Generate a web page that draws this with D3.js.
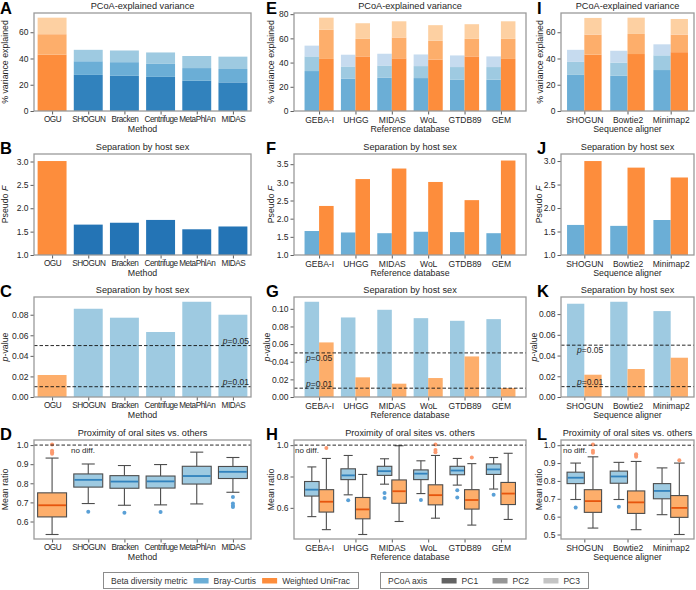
<!DOCTYPE html>
<html><head><meta charset="utf-8">
<script src="https://cdn.jsdelivr.net/npm/d3@7"></script>
<style>
body{margin:0;background:#fff;}
svg text{font-family:"Liberation Sans",Arial,Helvetica,sans-serif;fill:#262626;}
</style></head><body>
<svg id="fig" width="696" height="590"></svg>
<script>
// ---------------- data ----------------
const methods = ["OGU","SHOGUN","Bracken","Centrifuge","MetaPhlAn","MIDAS"];
const databases = ["GEBA-I","UHGG","MIDAS","WoL","GTDB89","GEM"];
const aligners = ["SHOGUN","Bowtie2","Minimap2"];

// PCoA explained variance (% per axis)
const methodPC1 = [42.9,27.5,26.8,26.0,23.0,21.8];
const methodPC2 = [15.6,10.4,10.4,9.9,9.7,10.2];
const methodPC3 = [12.6,8.7,8.9,8.7,9.2,9.4];
const dbBrayPC1 = [33.0,26.8,27.4,27.2,26.0,25.8];
const dbBrayPC2 = [12.1,10.0,10.2,9.9,10.3,10.5];
const dbBrayPC3 = [8.9,9.7,9.7,9.6,9.6,8.8];
const dbUnifracPC1 = [43.0,45.1,43.5,42.5,45.1,43.0];
const dbUnifracPC2 = [24.1,14.5,17.2,15.5,14.5,16.6];
const dbUnifracPC3 = [10.0,12.9,13.4,12.9,12.1,14.5];
const alnBrayPC1 = [27.5,26.8,31.2];
const alnBrayPC2 = [9.9,10.1,11.2];
const alnBrayPC3 = [9.2,9.0,8.4];
const alnUnifracPC1 = [42.9,43.4,44.8];
const alnUnifracPC2 = [15.3,15.3,13.4];
const alnUnifracPC3 = [12.7,12.4,11.9];

// Pseudo F
const methodPseudoF = [3.01,1.65,1.69,1.75,1.55,1.61];
const dbPseudoFBray = [1.66,1.62,1.60,1.64,1.63,1.60];
const dbPseudoFUnifrac = [2.35,3.09,3.38,3.01,2.51,3.60];
const alnPseudoFBray = [1.64,1.62,1.745];
const alnPseudoFUnifrac = [3.00,2.86,2.65];

// p-values
const methodPval = [0.0214,0.0858,0.0771,0.0632,0.0926,0.0800];
const dbPvalBray = [0.108,0.0902,0.0989,0.0894,0.0864,0.0883];
const dbPvalUnifrac = [0.0619,0.0223,0.0151,0.0215,0.046,0.0102];
const alnPvalBray = [0.0900,0.0919,0.0829];
const alnPvalUnifrac = [0.0215,0.0270,0.0379];
const pThresholds = [0.05, 0.01];

// Mean ratio boxplots: [whisker low, Q1, median, Q3, whisker high]
const methodBox = [[0.532,0.624,0.685,0.750,0.932],[0.694,0.780,0.818,0.849,0.901],[0.685,0.774,0.809,0.840,0.893],
                   [0.687,0.775,0.810,0.838,0.898],[0.692,0.796,0.838,0.889,0.963],[0.753,0.825,0.860,0.888,0.935]];
const methodOut = [[0.955,0.962,0.970,1.003],[0.651],[0.646],[0.650],[],[0.728,0.694,0.682,0.676]];
const dbBoxBray = [[0.544,0.675,0.716,0.768,0.861],[0.683,0.780,0.807,0.849,0.934],[0.751,0.807,0.834,0.865,0.913],
                   [0.691,0.780,0.818,0.842,0.900],[0.745,0.811,0.838,0.865,0.915],[0.720,0.813,0.845,0.880,0.921]];
const dbOutBray = [[],[0.648],[0.695,0.662],[0.650],[0.712,0.666],[0.683]];
const dbBoxUnifrac = [[0.461,0.573,0.639,0.716,0.915],[0.430,0.530,0.590,0.666,0.813],[0.513,0.629,0.706,0.778,0.996],
                      [0.534,0.619,0.681,0.747,0.934],[0.490,0.592,0.650,0.716,0.882],[0.526,0.621,0.691,0.762,0.948]];
const dbOutUnifrac = [[0.981],[],[],[0.954,0.969,1.004],[0.921],[]];
const alnBoxBray = [[0.696,0.785,0.818,0.849,0.900],[0.696,0.787,0.825,0.855,0.904],[0.611,0.700,0.744,0.785,0.873]];
const alnOutBray = [[0.651],[0.656],[]];
const alnBoxUnifrac = [[0.536,0.624,0.687,0.751,0.935],[0.527,0.618,0.680,0.744,0.909],[0.500,0.596,0.649,0.718,0.900]];
const alnOutUnifrac = [[0.958,0.969,1.004],[0.935,0.945,0.949],[0.916]];

// tick values
const ticksVarA = [0,20,40,60];
const ticksVarE = [0,20,40,60,80];
const ticksVarI = [0,20,40,60];
const ticksFB = [1.0,1.5,2.0,2.5,3.0];
const ticksFF = [1.0,1.5,2.0,2.5,3.0,3.5];
const ticksFJ = [1.0,1.5,2.0,2.5,3.0];
const ticksPC = [0,0.02,0.04,0.06,0.08];
const ticksPG = [0,0.02,0.04,0.06,0.08,0.10];
const ticksPK = [0,0.02,0.04,0.06,0.08];
const ticksRD = [0.6,0.7,0.8,0.9,1.0];
const ticksRH = [0.6,0.8,1.0];
const ticksRL = [0.5,0.6,0.7,0.8,0.9,1.0];

// ---------------- style ----------------
const FONT = '"Liberation Sans", Arial, Helvetica, sans-serif';
const blueDark = ["#3182bd","#6baed6","#9ecae1"];
const blueLight = ["#6baed6","#9ecae1","#c6dbef"];
const orangeS = ["#fd8d3c","#fdae6b","#fdd0a2"];
const svg = d3.select('#fig');
svg.append('rect').attr('width',696).attr('height',590).attr('fill','#fff');

const cols = [{l:34,r:251,lx:0,yl:5},{l:294,r:526,lx:266,yl:271},{l:561,r:694,lx:537,yl:540}];
const rows = [{t:13,b:111},{t:154,b:255},{t:297,b:397},{t:440,b:539}];

function fitTickLabels(xa, step) {
  const texts = xa.selectAll('.tick text');
  let fs = 8.5, ls = 0;
  const fits = () => {
    const w = [];
    texts.each(function(){ w.push(this.getComputedTextLength()); });
    for (let i = 0; i + 1 < w.length; i++) if ((w[i] + w[i + 1]) / 2 + 1.5 > step) return false;
    return true;
  };
  const apply = () => texts.attr('font-size', fs).attr('letter-spacing', ls);
  while (!fits() && ls > -0.4) { ls -= 0.05; apply(); }
  while (!fits() && fs > 7) { fs -= 0.1; apply(); }
}

function makePanel(ci, ri, o) {
  const c = cols[ci], r = rows[ri], n = o.cats.length;
  let dom;
  if (o.mode === 'sns') dom = [-0.5, n - 0.5];
  else { const m = 0.05 * (n - 1 + 0.8); dom = [-0.4 - m, n - 1 + 0.4 + m]; }
  const x = d3.scaleLinear().domain(dom).range([c.l, c.r]);
  const y = d3.scaleLinear().domain(o.yDomain).range([r.b, r.t]);
  const g = svg.append('g');
  const marks = g.append('g');
  const over = g.append('g');
  const xa = g.append('g').attr('transform', `translate(0,${r.b})`)
    .call(d3.axisBottom(x).tickValues(d3.range(n)).tickFormat(i => o.cats[i]).tickSize(3.5).tickPadding(2));
  const ya = g.append('g').attr('transform', `translate(${c.l},0)`)
    .call(d3.axisLeft(y).tickValues(o.yTicks).tickFormat(o.yFmt).tickSize(3.5).tickPadding(2));
  [xa, ya].forEach(a => {
    a.attr('font-family', FONT).attr('font-size', 8.5);
    a.select('.domain').remove();
    a.selectAll('.tick line').attr('stroke', '#333').attr('stroke-width', 0.8);
    a.selectAll('.tick text').attr('fill', '#262626');
  });
  fitTickLabels(xa, x(1) - x(0));
  let maxW = 0;
  ya.selectAll('.tick text').each(function(){ maxW = Math.max(maxW, this.getComputedTextLength()); });
  const tickLeft = c.l - 5.5 - maxW;
  const center = Math.min(c.yl, tickLeft - 4.5);
  const yl = g.append('text').attr('font-size', 8.8).attr('text-anchor', 'middle')
    .attr('transform', `translate(${center + 2.8},${(r.t + r.b) / 2}) rotate(-90)`);
  o.ylabel.forEach(p => yl.append('tspan').attr('font-style', p.i ? 'italic' : 'normal').text(p.t));
  g.append('text').attr('x', (c.l + c.r) / 2).attr('y', r.b + 21).attr('font-size', 8.8)
    .attr('text-anchor', 'middle').text(o.xlabel);
  g.append('text').attr('x', (c.l + c.r) / 2).attr('y', r.t - 4).attr('font-size', 9.2)
    .attr('text-anchor', 'middle').text(o.title);
  g.append('text').attr('x', c.lx).attr('y', Math.max(r.t - 0.5, 13.5)).attr('font-size', 16.5).attr('font-weight', 'bold')
    .style('fill', '#000').text(o.letter);
  g.append('rect').attr('x', c.l).attr('y', r.t).attr('width', c.r - c.l).attr('height', r.b - r.t)
    .attr('fill', 'none').attr('stroke', '#9a9a9a').attr('stroke-width', 1.3);
  return {x, y, marks, over, c, r};
}

function stacked(p, i, x0, x1, vals, colors) {
  let cum = 0;
  vals.forEach((v, k) => {
    p.marks.append('rect').attr('x', p.x(x0)).attr('width', p.x(x1) - p.x(x0))
      .attr('y', p.y(cum + v)).attr('height', p.y(cum) - p.y(cum + v)).attr('fill', colors[k]);
    cum += v;
  });
}
function bar(p, x0, x1, v, base, color) {
  p.marks.append('rect').attr('x', p.x(x0)).attr('width', p.x(x1) - p.x(x0))
    .attr('y', p.y(v)).attr('height', p.y(base) - p.y(v)).attr('fill', color);
}
function hline(p, v) {
  p.over.append('line').attr('x1', p.c.l).attr('x2', p.c.r).attr('y1', p.y(v)).attr('y2', p.y(v))
    .attr('stroke', '#111').attr('stroke-width', 0.9).attr('stroke-dasharray', '3.5,2');
}
function plabel(p, v, xPos, anchor, dy) {
  const t = p.over.append('text').attr('x', xPos).attr('y', p.y(v) + dy).attr('font-size', 8.5).attr('text-anchor', anchor);
  t.append('tspan').attr('font-style', 'italic').text('p');
  t.append('tspan').text('=' + v.toFixed(2));
}
function box(p, cx, w, s, outs, fill, med, capFrac, outColor) {
  const [lo, q1, md, q3, hi] = s;
  const m = p.marks, X = p.x, Y = p.y;
  const xl = X(cx - w / 2), xr = X(cx + w / 2), xc = X(cx), cw = (xr - xl) * capFrac / 2;
  const st = '#4d4d4d';
  m.append('line').attr('x1', xc).attr('x2', xc).attr('y1', Y(lo)).attr('y2', Y(q1)).attr('stroke', st).attr('stroke-width', 1.1);
  m.append('line').attr('x1', xc).attr('x2', xc).attr('y1', Y(q3)).attr('y2', Y(hi)).attr('stroke', st).attr('stroke-width', 1.1);
  [lo, hi].forEach(v => m.append('line').attr('x1', xc - cw).attr('x2', xc + cw).attr('y1', Y(v)).attr('y2', Y(v))
    .attr('stroke', st).attr('stroke-width', 1.1));
  m.append('rect').attr('x', xl).attr('width', xr - xl).attr('y', Y(q3)).attr('height', Y(q1) - Y(q3))
    .attr('fill', fill).attr('stroke', st).attr('stroke-width', 1.1);
  m.append('line').attr('x1', xl + 0.6).attr('x2', xr - 0.6).attr('y1', Y(md)).attr('y2', Y(md)).attr('stroke', med).attr('stroke-width', 1.8);
  outs.forEach(v => m.append('circle').attr('cx', xc).attr('cy', Y(v)).attr('r', 2).attr('fill', outColor));
}
function ratioDomain(boxes, outs) {
  const all = boxes.flat().concat(outs.flat().flat());
  const lo = d3.min(all), hi = d3.max(all), m = (hi - lo) * 0.05;
  return [lo - m, hi + m];
}
const fmtInt = d3.format('d'), fmt1 = d3.format('.1f'), fmt2 = d3.format('.2f');
const yVar = [{t:'% variance explained'}];
const yF = [{t:'Pseudo '},{t:'F',i:true}];
const yP = [{t:'p',i:true},{t:'-value'}];
const yR = [{t:'Mean ratio'}];
const tVar = 'PCoA-explained variance', tSex = 'Separation by host sex', tOral = 'Proximity of oral sites vs. others';
const BLUE_B = '#2474b5', BF = '#6baed6', OF = '#fd8d3c', BP = '#9ecae1', OP = '#fdae6b';
const OUT_B = '#5aa0d6', OUT_O = '#fc9a70';

// ---------- column 1 ----------
{
  const cum = methods.map((_, i) => methodPC1[i] + methodPC2[i] + methodPC3[i]);
  const pA = makePanel(0, 0, {cats: methods, mode: 'sns', yDomain: [0, d3.max(cum) * 1.05], yTicks: ticksVarA, yFmt: fmtInt,
    ylabel: yVar, xlabel: 'Method', title: tVar, letter: 'A'});
  methods.forEach((m, i) => stacked(pA, i, i - 0.4, i + 0.4, [methodPC1[i], methodPC2[i], methodPC3[i]], i === 0 ? orangeS : blueDark));

  const pB = makePanel(0, 1, {cats: methods, mode: 'sns', yDomain: [1.0, d3.max(methodPseudoF) * 1.05], yTicks: ticksFB, yFmt: fmt1,
    ylabel: yF, xlabel: 'Method', title: tSex, letter: 'B'});
  methods.forEach((m, i) => bar(pB, i - 0.4, i + 0.4, methodPseudoF[i], 1.0, i === 0 ? OF : BLUE_B));

  const pC = makePanel(0, 2, {cats: methods, mode: 'sns', yDomain: [0, d3.max(methodPval) * 1.05], yTicks: ticksPC, yFmt: fmt2,
    ylabel: yP, xlabel: 'Method', title: tSex, letter: 'C'});
  methods.forEach((m, i) => bar(pC, i - 0.4, i + 0.4, methodPval[i], 0, i === 0 ? OP : BP));
  pThresholds.forEach(v => { hline(pC, v); plabel(pC, v, pC.c.r - 2, 'end', -1.5); });

  const pD = makePanel(0, 3, {cats: methods, mode: 'sns', yDomain: ratioDomain(methodBox, methodOut), yTicks: ticksRD, yFmt: fmt1,
    ylabel: yR, xlabel: 'Method', title: tOral, letter: 'D'});
  methods.forEach((m, i) => box(pD, i, 0.8, methodBox[i], methodOut[i], i === 0 ? OP : BP, i === 0 ? '#e6550d' : '#3182bd', 0.45, i === 0 ? OUT_O : OUT_B));
  hline(pD, 1.0);
  pD.over.append('text').attr('x', pD.c.l + 37).attr('y', pD.y(1.0) + 7.5).attr('font-size', 8).text('no diff.');
}

// ---------- column 2 & 3 (paired) ----------
function pairedColumn(ci, cats, bray, uni, fB, fU, pB_, pU, boxB, outB, boxU, outU, ticks, xlabel, letters, pOffset, ndOffset) {
  const cumB = cats.map((_, i) => bray[0][i] + bray[1][i] + bray[2][i]);
  const cumU = cats.map((_, i) => uni[0][i] + uni[1][i] + uni[2][i]);
  const p1 = makePanel(ci, 0, {cats, mode: 'mpl', yDomain: [0, d3.max(cumB.concat(cumU)) * 1.05], yTicks: ticks[0], yFmt: fmtInt,
    ylabel: yVar, xlabel, title: tVar, letter: letters[0]});
  cats.forEach((c, i) => {
    stacked(p1, i, i - 0.4, i, [bray[0][i], bray[1][i], bray[2][i]], blueLight);
    stacked(p1, i, i, i + 0.4, [uni[0][i], uni[1][i], uni[2][i]], orangeS);
  });
  const p2 = makePanel(ci, 1, {cats, mode: 'mpl', yDomain: [1.0, d3.max(fB.concat(fU)) * 1.05], yTicks: ticks[1], yFmt: fmt1,
    ylabel: yF, xlabel, title: tSex, letter: letters[1]});
  cats.forEach((c, i) => { bar(p2, i - 0.4, i, fB[i], 1.0, BF); bar(p2, i, i + 0.4, fU[i], 1.0, OF); });
  const p3 = makePanel(ci, 2, {cats, mode: 'mpl', yDomain: [0, d3.max(pB_.concat(pU)) * 1.05], yTicks: ticks[2], yFmt: fmt2,
    ylabel: yP, xlabel, title: tSex, letter: letters[2]});
  cats.forEach((c, i) => { bar(p3, i - 0.4, i, pB_[i], 0, BP); bar(p3, i, i + 0.4, pU[i], 0, OP); });
  pThresholds.forEach(v => { hline(p3, v); plabel(p3, v, p3.c.l + pOffset, 'start', v === 0.05 ? 8 : -1.5); });
  const p4 = makePanel(ci, 3, {cats, mode: 'mpl', yDomain: ratioDomain(boxB.concat(boxU), outB.concat(outU)), yTicks: ticks[3], yFmt: fmt1,
    ylabel: yR, xlabel, title: tOral, letter: letters[3]});
  cats.forEach((c, i) => {
    box(p4, i - 0.2, 0.4, boxB[i], outB[i], BP, '#3182bd', 0.62, OUT_B);
    box(p4, i + 0.2, 0.4, boxU[i], outU[i], OP, '#e6550d', 0.62, OUT_O);
  });
  hline(p4, 1.0);
  p4.over.append('text').attr('x', p4.c.l + ndOffset).attr('y', p4.y(1.0) + 7.5).attr('font-size', 8).text('no diff.');
}

pairedColumn(1, databases, [dbBrayPC1, dbBrayPC2, dbBrayPC3], [dbUnifracPC1, dbUnifracPC2, dbUnifracPC3],
  dbPseudoFBray, dbPseudoFUnifrac, dbPvalBray, dbPvalUnifrac, dbBoxBray, dbOutBray, dbBoxUnifrac, dbOutUnifrac,
  [ticksVarE, ticksFF, ticksPG, ticksRH], 'Reference database', ['E','F','G','H'], 12, 1);
pairedColumn(2, aligners, [alnBrayPC1, alnBrayPC2, alnBrayPC3], [alnUnifracPC1, alnUnifracPC2, alnUnifracPC3],
  alnPseudoFBray, alnPseudoFUnifrac, alnPvalBray, alnPvalUnifrac, alnBoxBray, alnOutBray, alnBoxUnifrac, alnOutUnifrac,
  [ticksVarI, ticksFJ, ticksPK, ticksRL], 'Sequence aligner', ['I','J','K','L'], 16, 2);

// ---------- legends ----------
const legendMetric = [{label:'Beta diversity metric'},{label:'Bray-Curtis',color:BF},{label:'Weighted UniFrac',color:OF}];
const legendAxis = [{label:'PCoA axis'},{label:'PC1',color:'#636363'},{label:'PC2',color:'#969696'},{label:'PC3',color:'#c4c4c4'}];
function legend(x0, x1, items) {
  const g = svg.append('g');
  g.append('rect').attr('x', x0 + 0.5).attr('y', 572.5).attr('width', x1 - x0).attr('height', 16)
    .attr('fill', '#fff').attr('stroke', '#8c8c8c').attr('stroke-width', 1);
  const nodes = items.map(it => {
    const ig = g.append('g');
    let w = 0;
    if (it.color) { ig.append('rect').attr('x', 0).attr('y', 578).attr('width', 15).attr('height', 5.5).attr('fill', it.color); w = 20; }
    const t = ig.append('text').attr('x', w).attr('y', 584).attr('font-size', 8.5).style('fill', '#333').text(it.label);
    w += t.node().getComputedTextLength();
    return {ig, w};
  });
  const pad = 8, total = d3.sum(nodes, d => d.w);
  const gap = (x1 - x0 - 2 * pad - total) / (nodes.length - 1);
  let cx = x0 + pad;
  nodes.forEach(nd => { nd.ig.attr('transform', `translate(${cx},0)`); cx += nd.w + gap; });
}
legend(103, 358, legendMetric);
legend(380, 588, legendAxis);
</script>
</body></html>
